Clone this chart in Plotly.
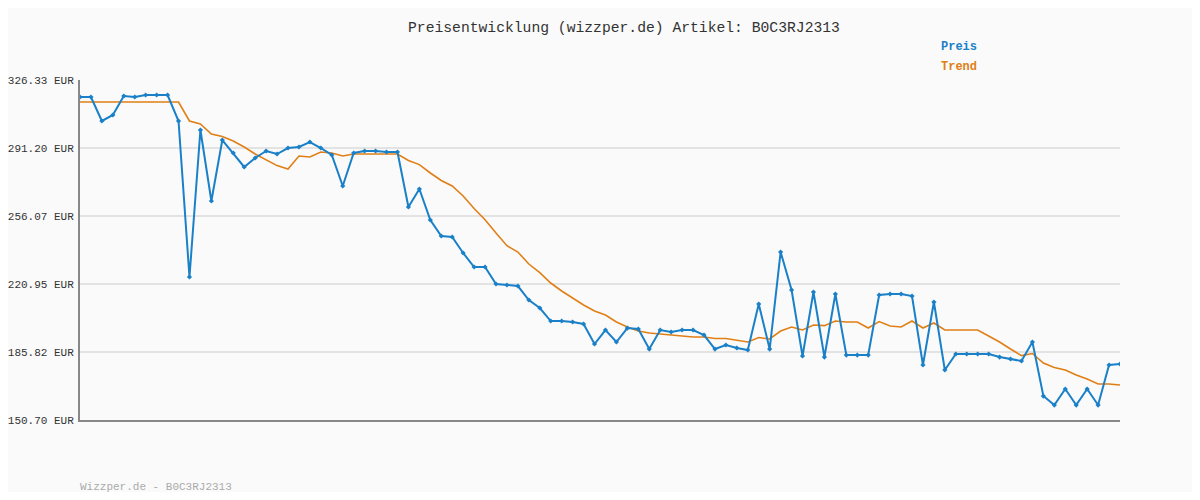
import plotly.graph_objects as go

preis = [317.55, 317.55, 305.15, 308.25, 318.06, 317.55, 318.58, 318.58, 318.58, 305.15,
         224.56, 300.50, 263.82, 295.33, 288.62, 281.39, 286.04, 289.65, 288.10, 291.20,
         291.72, 294.30, 291.20, 287.58, 271.57, 288.62, 289.65, 289.65, 289.13, 289.13,
         260.72, 270.02, 254.01, 245.74, 245.22, 236.96, 229.73, 229.73, 220.94, 220.43,
         219.91, 212.68, 208.55, 201.83, 201.83, 201.31, 200.28, 189.95, 197.18, 190.98,
         198.21, 197.70, 187.36, 197.18, 196.15, 197.18, 197.18, 194.60, 187.36, 189.43,
         187.88, 186.85, 210.61, 187.36, 237.47, 217.84, 183.75, 216.81, 183.23, 215.78,
         184.26, 184.26, 184.26, 215.26, 215.78, 215.78, 214.74, 179.10, 211.64, 176.52,
         184.78, 184.78, 184.78, 184.78, 183.23, 182.20, 181.17, 190.98, 163.08, 158.43,
         166.70, 158.43, 166.70, 158.43, 179.10, 179.62]

trend = [314.96] * 10 + [
         305.15, 303.60, 298.43, 297.14, 294.82, 291.72, 288.10, 285.26, 282.11, 280.35,
         287.07, 286.55, 289.13, 288.62, 287.07, 288.10, 288.10, 288.10, 288.10, 288.10,
         284.74, 282.63, 278.29, 274.41, 271.57, 266.40, 259.95, 254.16, 247.29, 240.73,
         237.47, 231.28, 226.78, 221.46, 217.33, 213.71, 210.09, 207.00, 204.93, 201.31,
         198.73, 196.66, 195.63, 195.11, 194.60, 194.08, 193.56, 193.56, 192.79, 192.79,
         192.01, 190.98, 193.31, 192.53, 196.66, 198.73, 197.18, 199.76, 199.45, 201.83,
         201.31, 201.31, 198.21, 201.57, 199.24, 198.73, 201.83, 198.21, 200.80, 197.18,
         197.18, 197.18, 197.18, 194.08, 190.98, 187.36, 183.96, 185.05, 180.13, 177.81,
         176.52, 173.93, 171.87, 169.28, 169.28, 168.77]

y_ticks = [150.70, 185.82, 220.95, 256.07, 291.20, 326.33]
y_labels = [f'{v:.2f} EUR' for v in y_ticks]

blue = '#1a80c8'
orange = '#e07f16'
font = 'Liberation Mono'

# page is drawn with an 8px body offset, so work in a 1184x484 figure
W, H = 1184, 484
L, T, PW, PH = 72, 72, 1040, 340

def px_x(px):
    return (px - 8 - L) / PW

def px_y(py):
    return 1 - (py - 8 - T) / PH

x = list(range(len(preis)))

fig = go.Figure()
fig.add_trace(go.Scatter(x=x, y=trend, mode='lines', line=dict(color=orange, width=1.6), name='Trend'))
fig.add_trace(go.Scatter(x=x, y=preis, mode='lines+markers', line=dict(color=blue, width=2),
                         marker=dict(symbol='diamond', size=4, color=blue), name='Preis'))

fig.update_layout(
    width=W, height=H,
    paper_bgcolor='#fafafa', plot_bgcolor='#fafafa',
    margin=dict(l=L, r=W - L - PW, t=T, b=H - T - PH),
    showlegend=False,
    font=dict(family=font, size=12, color='#333'),
)
fig.update_xaxes(range=[0, len(preis) - 1], showgrid=False, showticklabels=False, zeroline=False,
                 showline=True, linecolor='#888', linewidth=2, automargin=False)
fig.update_yaxes(range=[y_ticks[0], y_ticks[-1]], tickvals=y_ticks, ticktext=y_labels,
                 showgrid=True, gridcolor='#e3e3e3', gridwidth=2, zeroline=False, automargin=False,
                 showline=True, linecolor='#888', linewidth=2, ticks='', ticklabelstandoff=2,
                 tickfont=dict(size=11, color='#333'))

fig.add_annotation(text='Preisentwicklung (wizzper.de) Artikel: B0C3RJ2313', x=px_x(624), y=px_y(28),
                   xref='paper', yref='paper', yanchor='middle', showarrow=False,
                   font=dict(size=14.7, color='#333'))
fig.add_annotation(text='<b>Preis</b>', x=px_x(939), y=px_y(47), xref='paper', yref='paper',
                   xanchor='left', yanchor='middle', showarrow=False, font=dict(color=blue, size=12))
fig.add_annotation(text='<b>Trend</b>', x=px_x(939), y=px_y(67), xref='paper', yref='paper',
                   xanchor='left', yanchor='middle', showarrow=False, font=dict(color=orange, size=12))
fig.add_annotation(text='Wizzper.de - B0C3RJ2313', x=px_x(78), y=px_y(487), xref='paper', yref='paper',
                   xanchor='left', yanchor='middle', showarrow=False, font=dict(color='#aaa', size=11))

fig.write_html('out.html')
